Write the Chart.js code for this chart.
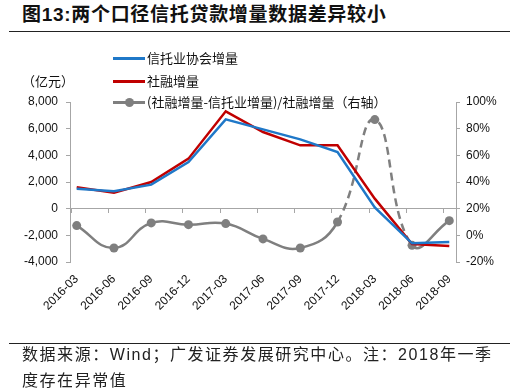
<!DOCTYPE html>
<html><head><meta charset="utf-8">
<script src="https://cdn.jsdelivr.net/npm/chart.js@4/dist/chart.umd.min.js"></script>
<style>
body{margin:0;width:524px;height:392px;position:relative;background:#fff;overflow:hidden;font-family:"Liberation Sans","Noto Sans CJK SC",sans-serif;color:#111;}
#title{position:absolute;left:22px;top:3px;font-size:19px;font-weight:bold;line-height:24px;letter-spacing:0.7px;white-space:nowrap;color:#111;}
.rule{position:absolute;left:9px;width:501px;height:0;border-top:1.5px solid #222;}
#wrap{position:absolute;left:0;top:0;width:524px;height:392px;}
.lg{position:absolute;left:113px;height:18px;line-height:18px;font-size:13px;white-space:nowrap;font-family:"Noto Sans CJK SC",sans-serif;color:#111;}
.sw{display:inline-block;position:relative;width:32px;height:18px;vertical-align:top;margin-right:2px;}
.sw i{position:absolute;left:0;top:8px;width:32px;height:3px;}
.sw b{position:absolute;left:12px;top:5px;width:9px;height:9px;border-radius:50%;}
#unit{position:absolute;left:22px;top:72px;font-size:13px;line-height:18px;font-family:"Noto Sans CJK SC",sans-serif;}
.fn{position:absolute;left:22px;font-size:16px;line-height:22px;letter-spacing:1.55px;white-space:nowrap;color:#222;}
</style></head>
<body>
<div id="title">图13:两个口径信托贷款增量数据差异较小</div>
<div class="rule" style="top:31px"></div>
<div id="wrap"><canvas id="c" width="524" height="392"></canvas></div>
<div id="unit">（亿元）</div>
<div id="legend"></div>
<div class="rule" style="top:343px"></div>
<div class="fn" style="top:344px">数据来源：Wind；广发证券发展研究中心。注：2018年一季</div>
<div class="fn" style="top:370px">度存在异常值</div>
<script>
const categories = ['2016-03','2016-06','2016-09','2016-12','2017-03','2017-06','2017-09','2017-12','2018-03','2018-06','2018-09'];
const trustAssoc = [1500,1300,1800,3500,6700,5950,5200,4250,100,-2600,-2500];
const socialFinancing = [1600,1200,2000,3750,7300,5750,4750,4750,750,-2650,-2800];
const diffRatio = [7.3,-9.5,9.3,8.0,8.8,-2.7,-9.5,10.0,86.8,-7.5,11.0];
const seriesNames = ['信托业协会增量','社融增量','(社融增量-信托业增量)/社融增量（右轴）'];
const leftTicks = [-4000,-2000,0,2000,4000,6000,8000];
const rightTicks = [-20,0,20,40,60,80,100];

const BLUE = '#1f78c8', RED = '#c00000', GREY = '#7f7f7f', AXIS = '#a6a6a6';
const pts = arr => categories.map((c,i)=>({x:i,y:arr[i]}));

// legend
const colors = [BLUE, RED, GREY];
const legendY = [49, 72, 93];
const lg = document.getElementById('legend');
seriesNames.forEach((n,i)=>{
  const d = document.createElement('div');
  d.className='lg'; d.style.top = legendY[i]+'px';
  d.innerHTML = '<span class="sw"><i style="background:'+colors[i]+'"></i>'+(i===2?'<b style="background:'+GREY+'"></b>':'')+'</span>'+n;
  lg.appendChild(d);
});

Chart.defaults.font.family = '"Liberation Sans", Arial, sans-serif';
Chart.defaults.font.size = 12;
Chart.defaults.color = '#111';

new Chart(document.getElementById('c'), {
  type:'line',
  data:{ datasets:[
    {label:seriesNames[0], data:pts(trustAssoc), borderColor:BLUE, backgroundColor:BLUE, borderWidth:2.5, pointRadius:0, tension:0, yAxisID:'y', xAxisID:'x'},
    {label:seriesNames[1], data:pts(socialFinancing), borderColor:RED, backgroundColor:RED, borderWidth:2.5, pointRadius:0, tension:0, yAxisID:'y', xAxisID:'x'},
    {label:seriesNames[2], data:pts(diffRatio), borderColor:GREY, backgroundColor:GREY, borderWidth:2.5, pointRadius:4.5, pointBorderWidth:0, tension:0.45, yAxisID:'y1', xAxisID:'x',
     segment:{ borderDash: ctx => (ctx.p0DataIndex===7 || ctx.p0DataIndex===8) ? [8,5] : undefined }}
  ]},
  options:{
    responsive:false, animation:false,
    layout:{padding:{top:102,left:0,right:0,bottom:0}},
    plugins:{legend:{display:false}, tooltip:{enabled:false}},
    scales:{
      x:{type:'linear', position:'bottom', min:-0.18, max:10.18,
        afterBuildTicks: s => { s.ticks = categories.map((c,i)=>({value:i})); },
        ticks:{autoSkip:false, minRotation:45, maxRotation:45, padding:10, callback: v => categories[Math.round(v)] ?? ''},
        grid:{display:false, drawTicks:false}, border:{display:false},
        afterFit: s => { s.height = 130; }},
      x0:{type:'linear', axis:'x', position:{y:0}, min:-0.18, max:10.18,
        afterBuildTicks: s => { s.ticks = categories.map((c,i)=>({value:i-0.153})); },
        ticks:{display:false},
        grid:{drawOnChartArea:false, tickLength:4, tickColor:AXIS, color:AXIS}, border:{display:false}},
      y:{position:'left', min:-4000, max:8000,
        afterBuildTicks: s => { s.ticks = leftTicks.map(v=>({value:v})); },
        ticks:{padding:8, callback: v => v.toLocaleString('en-US')},
        grid:{color: ctx => (ctx.tick && ctx.tick.value===0) ? AXIS : 'rgba(0,0,0,0)', tickColor:AXIS, tickLength:4},
        border:{color:AXIS},
        afterFit: s => { s.width = 70; }},
      y1:{position:'right', min:-20, max:100,
        afterBuildTicks: s => { s.ticks = rightTicks.map(v=>({value:v})); },
        ticks:{padding:6, callback: v => v+'%'},
        grid:{drawOnChartArea:false, tickColor:AXIS, tickLength:4},
        border:{color:AXIS},
        afterFit: s => { s.width = 68; }}
    }
  }
});
</script>
</body></html>
